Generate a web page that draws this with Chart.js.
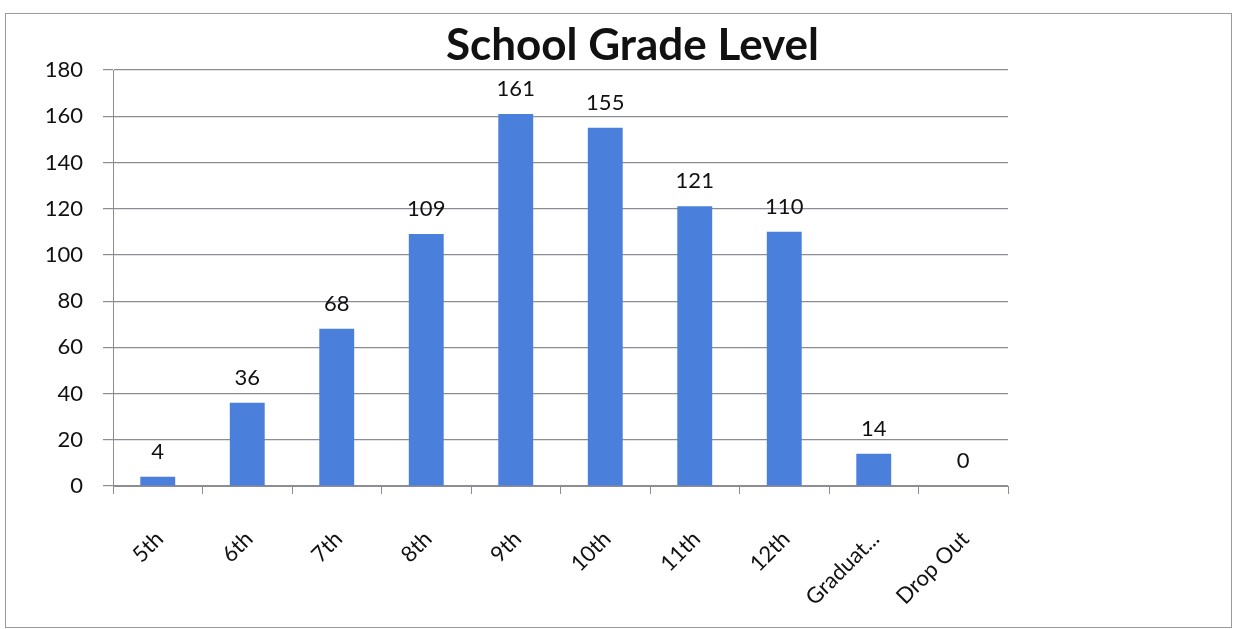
<!DOCTYPE html>
<html>
<head>
<meta charset="utf-8">
<script src="https://cdn.jsdelivr.net/npm/chart.js@4"></script>
<style>
    html, body { margin: 0; padding: 0; background: #fff; }
    #frame {
        position: absolute;
        left: 5px; top: 13px;
        width: 1225px; height: 613px;
        border: 1px solid #9a9a9a;
    }
</style>
</head>
<body>
<div id="frame"><canvas id="myChart"></canvas></div>
<script>
const grades = ['5th', '6th', '7th', '8th', '9th', '10th', '11th', '12th', 'Graduat...', 'Drop Out'];
const students = [4, 36, 68, 109, 161, 155, 121, 110, 14, 0];
const yTicks = [0, 20, 40, 60, 80, 100, 120, 140, 160, 180];

const fontFamily = 'Lato, "Open Sans", sans-serif';

// draws the value above each bar (no datalabels plugin available offline)
const valueLabels = {
    id: 'valueLabels',
    afterDatasetsDraw(chart) {
        const ctx = chart.ctx;
        const meta = chart.getDatasetMeta(0);
        ctx.save();
        ctx.font = '22px ' + fontFamily;
        ctx.fillStyle = '#111';
        ctx.textAlign = 'center';
        ctx.textBaseline = 'bottom';
        meta.data.forEach((bar, i) => {
            ctx.fillText(students[i], bar.x, bar.y - 14);
        });
        ctx.restore();
    }
};

const ctx = document.getElementById('myChart').getContext('2d');

new Chart(ctx, {
    type: 'bar',
    data: {
        labels: grades,
        datasets: [{
            label: 'School Grade Level',
            data: students,
            yAxisID: 'y',
            backgroundColor: '#4a7fdc',
            borderWidth: 0,
            barPercentage: 0.78,
            categoryPercentage: 0.5
        }]
    },
    options: {
        responsive: true,
        maintainAspectRatio: false,
        animation: false,
        layout: {
            padding: { left: 40, right: 12, top: 0, bottom: 0 }
        },
        scales: {
            x: {
                grid: {
                    offset: true,
                    drawOnChartArea: false,
                    color: '#8c8c94',
                    tickLength: 8
                },
                border: { color: '#8c8c94' },
                ticks: {
                    color: '#111',
                    font: { family: fontFamily, size: 22 },
                    maxRotation: 45,
                    minRotation: 45,
                    autoSkip: false,
                    padding: 32,
                    labelOffset: 2
                },
                // rotated labels fit inside the plot, don't let them push it
                afterFit: (axis) => {
                    axis.paddingLeft = 0;
                    axis.paddingRight = 0;
                    axis.height = 141;
                }
            },
            y: {
                min: 0,
                max: 180,
                afterBuildTicks: (axis) => {
                    axis.ticks = yTicks.map(v => ({ value: v }));
                },
                afterFit: (axis) => {
                    axis.width = 67;
                },
                grid: {
                    color: '#8c8c94',
                    lineWidth: 1.2,
                    tickLength: 10
                },
                border: { color: '#8c8c94' },
                ticks: {
                    color: '#111',
                    padding: 20,
                    font: { family: fontFamily, size: 22 }
                }
            },
            // empty space on the right where the legend would sit
            y2: {
                type: 'linear',
                position: 'right',
                grid: { display: false },
                border: { display: false },
                ticks: { display: false },
                afterFit: (axis) => {
                    axis.width = 211;
                }
            }
        },
        plugins: {
            legend: { display: false },
            tooltip: { enabled: false },
            title: {
                display: true,
                text: 'School Grade Level',
                color: '#111',
                font: { family: fontFamily, size: 44, weight: 'bold', lineHeight: 1 },
                padding: { top: 10, bottom: 2 }
            }
        }
    },
    plugins: [valueLabels]
});
</script>
</body>
</html>
